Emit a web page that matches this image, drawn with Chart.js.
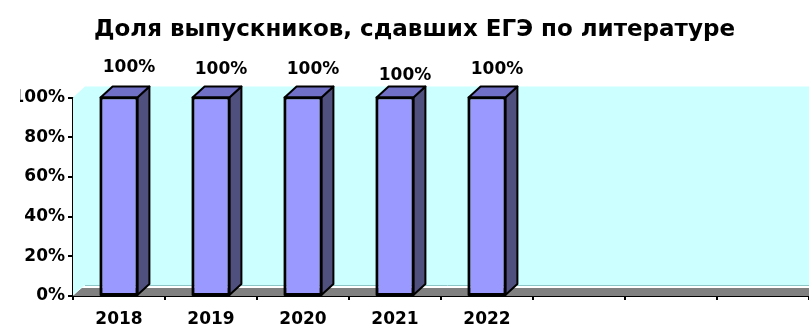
<!DOCTYPE html>
<html>
<head>
<meta charset="utf-8">
<script src="https://cdn.jsdelivr.net/npm/chart.js@4.4.0/dist/chart.umd.min.js"></script>
<style>
  html, body { margin: 0; padding: 0; background: #ffffff; }
  #wrap { width: 809px; height: 327px; }
</style>
</head>
<body>
<div id="wrap"><canvas id="c" width="809" height="327"></canvas></div>
<script>
const chartTitle = 'Доля выпускников, сдавших ЕГЭ по литературе';
const categories = ['2018', '2019', '2020', '2021', '2022', '', '', ''];
const shareValues = [100, 100, 100, 100, 100, null, null, null];
const valueLabels = ['100%', '100%', '100%', '100%', '100%'];
const yTickValues = [0, 20, 40, 60, 80, 100];

const FONT = '"DejaVu Sans", Arial, sans-serif';
const DX = 12, DY = 11;

const threeD = {
  id: 'threeD',
  beforeDatasetsDraw(chart) {
    const { ctx, chartArea: a } = chart;
    ctx.save();
    ctx.fillStyle = '#CCFFFF';
    ctx.beginPath();
    ctx.moveTo(a.left, a.top);
    ctx.lineTo(a.left + DX, a.top - DY);
    ctx.lineTo(a.right + 1, a.top - DY);
    ctx.lineTo(a.right + 1, a.bottom - DY);
    ctx.lineTo(a.left + DX, a.bottom - DY);
    ctx.lineTo(a.left, a.bottom);
    ctx.closePath();
    ctx.fill();
    ctx.fillStyle = '#808080';
    ctx.beginPath();
    ctx.moveTo(a.left, a.bottom);
    ctx.lineTo(a.left + 8, a.bottom - 8);
    ctx.lineTo(a.right + 1, a.bottom - 8);
    ctx.lineTo(a.right + 1, a.bottom);
    ctx.closePath();
    ctx.fill();
    ctx.strokeStyle = '#8CC6C6';
    ctx.lineWidth = 1;
    ctx.beginPath();
    ctx.moveTo(a.left + DX, a.bottom - DY + 0.5);
    ctx.lineTo(a.right + 1, a.bottom - DY + 0.5);
    ctx.stroke();
    ctx.strokeStyle = '#E6FFFF';
    ctx.beginPath();
    ctx.moveTo(a.left + 1, a.bottom - 2);
    ctx.lineTo(a.left + DX, a.bottom - DY);
    ctx.stroke();
    ctx.restore();
  },
  afterDatasetsDraw(chart) {
    const { ctx } = chart;
    const meta = chart.getDatasetMeta(0);
    ctx.save();
    ctx.lineWidth = 2;
    ctx.strokeStyle = '#000000';
    ctx.lineJoin = 'round';
    meta.data.forEach((bar, i) => {
      if (shareValues[i] == null) return;
      const left = bar.x - bar.width / 2;
      const right = bar.x + bar.width / 2;
      const top = bar.y;
      const bottom = bar.base;
      ctx.fillStyle = '#50507F';
      ctx.beginPath();
      ctx.moveTo(right, top);
      ctx.lineTo(right + DX, top - DY);
      ctx.lineTo(right + DX, bottom - DY);
      ctx.lineTo(right, bottom);
      ctx.closePath();
      ctx.fill();
      ctx.stroke();
      ctx.fillStyle = '#7070C6';
      ctx.beginPath();
      ctx.moveTo(left, top);
      ctx.lineTo(left + DX, top - DY);
      ctx.lineTo(right + DX, top - DY);
      ctx.lineTo(right, top);
      ctx.closePath();
      ctx.fill();
      ctx.stroke();
      ctx.strokeRect(left, top, right - left, bottom - top);
      ctx.fillStyle = '#000000';
      ctx.font = 'bold 17px ' + FONT;
      ctx.textAlign = 'center';
      ctx.textBaseline = 'middle';
      const dy = (i === 3) ? 7 : (i === 0 ? -1 : 1);
      ctx.fillText(valueLabels[i], bar.x + 10, top - 29 + dy);
    });
    ctx.restore();
  }
};

new Chart(document.getElementById('c'), {
  type: 'bar',
  data: {
    labels: categories,
    datasets: [{
      data: shareValues,
      backgroundColor: '#9999FF',
      borderColor: '#000000',
      borderWidth: 2,
      borderSkipped: false,
      barPercentage: 0.8,
      categoryPercentage: 0.5
    }]
  },
  options: {
    responsive: false,
    animation: false,
    layout: { padding: { left: 20, right: 0, top: 0, bottom: 0 } },
    plugins: {
      legend: { display: false },
      tooltip: { enabled: false },
      title: {
        display: true,
        text: chartTitle,
        color: '#000000',
        font: { family: FONT, size: 23, weight: 'bold' },
        padding: { top: 16, bottom: 54 }
      }
    },
    scales: {
      x: {
        offset: true,
        grid: { display: true, offset: true, drawOnChartArea: false, color: '#000000', tickLength: 4, lineWidth: 2 },
        border: { display: true, color: '#000000', width: 2 },
        ticks: { color: '#000000', font: { family: FONT, size: 17, weight: 'bold' }, padding: 9, maxRotation: 0, autoSkip: false },
        afterFit(s) { s.height = 31; }
      },
      y: {
        min: 0,
        max: 100,
        afterBuildTicks(s) { s.ticks = yTickValues.map(v => ({ value: v })); },
        grid: { display: true, drawOnChartArea: false, color: '#000000', tickLength: 5, lineWidth: 2 },
        border: { display: true, color: '#000000', width: 2 },
        ticks: { color: '#000000', font: { family: FONT, size: 17, weight: 'bold' }, padding: 3, callback: v => v + '%' },
        afterFit(s) { s.width = 53; }
      }
    }
  },
  plugins: [threeD]
});
</script>
</body>
</html>
